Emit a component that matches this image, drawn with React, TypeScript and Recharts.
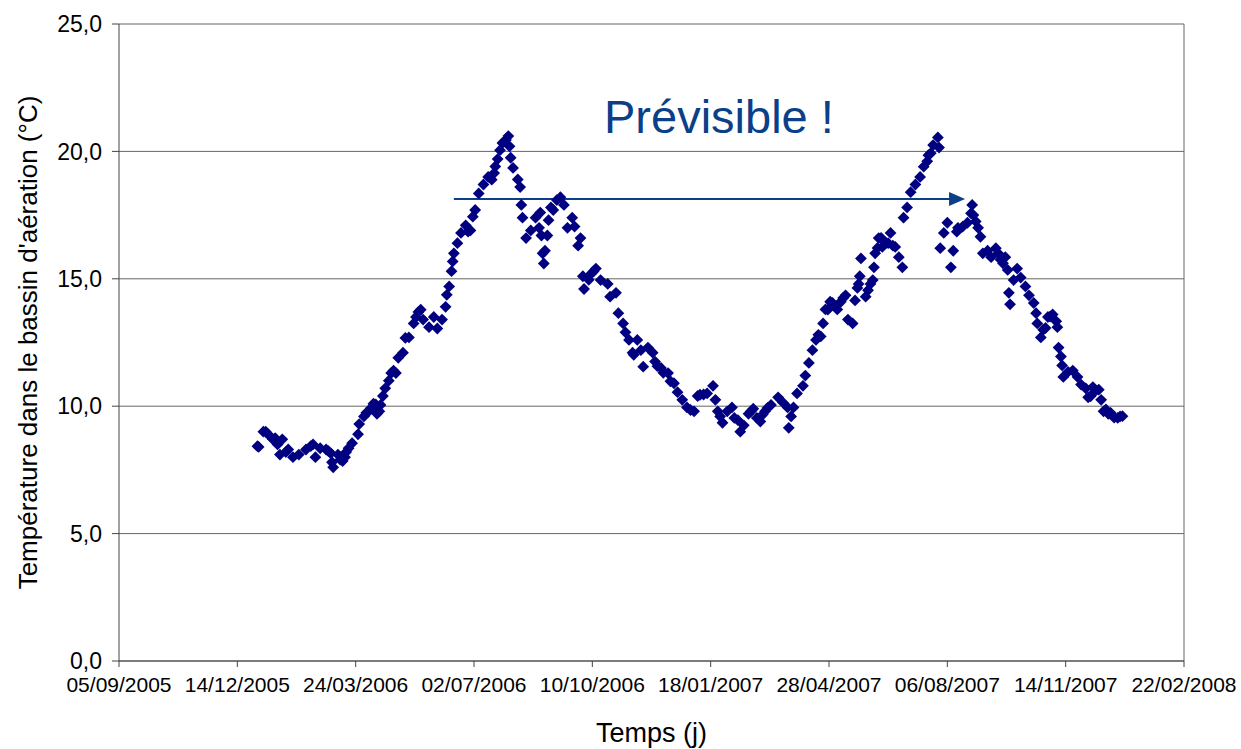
import { ScatterChart, Scatter, XAxis, YAxis, CartesianGrid, ReferenceLine, ReferenceDot } from "recharts";

// days counted from 05/09/2005
const startDate = Date.UTC(2005, 8, 5);
const dayTicks = [0, 100, 200, 300, 400, 500, 600, 700, 800, 900];
const tempTicks = [0, 5, 10, 15, 20, 25];

const days = [
  117, 118, 122, 124, 126, 130, 132, 134, 136, 138,
  141, 143, 147, 152, 158, 162, 164, 166, 170, 175,
  177, 179, 180, 181, 185, 187, 189, 191, 192, 194,
  197, 202, 203, 207, 209, 211, 213, 215, 217, 218,
  220, 221, 223, 225, 228, 230, 232, 234, 236, 240,
  242, 245, 249, 251, 253, 255, 257, 262, 266, 269,
  273, 276, 277, 279, 281, 282, 283, 286, 289, 293,
  295, 297, 299, 301, 304, 308, 312, 315, 317, 318,
  320, 322, 324, 327, 329, 330, 331, 333, 337, 339,
  340, 341, 344, 348, 352, 355, 356, 357, 358, 359,
  360, 362, 363, 365, 367, 370, 373, 376, 379, 383,
  385, 388, 390, 392, 393, 397, 399, 401, 403, 407,
  413, 415, 420, 422, 426, 428, 431, 434, 435, 438,
  441, 443, 447, 451, 453, 455, 458, 460, 464, 466,
  469, 472, 476, 480, 483, 486, 489, 491, 494, 497,
  502, 504, 506, 508, 510, 514, 518, 520, 523, 525,
  528, 532, 534, 536, 539, 542, 544, 546, 548, 551,
  557, 561, 565, 566, 568, 570, 573, 578, 580, 583,
  586, 589, 591, 593, 595, 597, 599, 601, 603, 607,
  610, 612, 614, 616, 620, 622, 624, 625, 626, 627,
  631, 633, 635, 637, 638, 639, 641, 642, 644, 645,
  648, 650, 652, 654, 656, 659, 662, 663, 666, 669,
  673, 677, 680, 683, 684, 686, 688, 692, 693, 694,
  697, 700, 703, 705, 708, 709, 713, 717, 720, 721,
  722, 724, 726, 728, 730, 734, 737, 741, 743, 745,
  747, 749, 751, 752, 753, 756, 759, 762, 766, 769,
  773, 775, 776, 779, 781, 783, 785, 787, 789, 792,
  793, 794, 796, 797, 798, 802, 806, 810, 813, 817,
  819, 821, 823, 825, 828, 830, 832, 834, 836, 838,
  841, 844, 846, 848,
];

const temps = [
  8.43, 8.4, 9.0, 9.0, 8.9, 8.7, 8.75, 8.5, 8.1, 8.7,
  8.2, 8.3, 8.0, 8.1, 8.3, 8.43, 8.5, 8.0, 8.35, 8.3,
  8.24, 8.15, 7.8, 7.6, 8.1, 7.9, 7.85, 8.0, 8.2, 8.35,
  8.55, 8.9, 9.3, 9.6, 9.74, 9.8, 9.93, 10.1, 10.07, 9.7,
  9.8, 10.05, 10.4, 10.7, 11.0, 11.3, 11.4, 11.3, 11.9, 12.1,
  12.68, 12.7, 13.25, 13.5, 13.7, 13.79, 13.4, 13.1, 13.5, 13.05,
  13.4, 13.9, 14.37, 14.7, 15.3, 15.68, 16.0, 16.4, 16.8, 17.1,
  16.85, 16.9, 17.44, 17.7, 18.35, 18.7, 19.0, 18.89, 19.15, 19.41,
  19.7, 20.05, 20.33, 20.45, 20.6, 20.2, 19.75, 19.35, 18.9, 18.6,
  17.9, 17.4, 16.6, 16.9, 17.4, 17.0, 17.6, 16.7, 16.0, 15.6,
  16.1, 16.7, 17.3, 17.8, 17.7, 18.09, 18.2, 17.9, 17.0, 17.4,
  17.05, 16.3, 16.6, 15.1, 14.6, 14.96, 15.2, 15.29, 15.4, 14.95,
  14.8, 14.3, 14.45, 13.65, 13.25, 12.9, 12.6, 12.1, 12.02, 12.6,
  12.2, 11.55, 12.3, 12.1, 11.75, 11.57, 11.5, 11.31, 11.3, 10.98,
  10.9, 10.55, 10.25, 9.95, 9.85, 9.8, 10.4, 10.45, 10.46, 10.5,
  10.8, 10.25, 9.8, 9.6, 9.35, 9.8, 9.95, 9.54, 9.45, 9.0,
  9.25, 9.7, 9.8, 9.9, 9.54, 9.4, 9.67, 9.8, 9.93, 10.05,
  10.35, 10.15, 9.95, 9.15, 9.6, 9.95, 10.5, 10.8, 11.2, 11.7,
  12.2, 12.6, 12.8, 12.74, 13.25, 13.8, 13.79, 14.1, 14.05, 13.8,
  14.1, 14.25, 14.35, 13.4, 13.25, 14.15, 14.64, 14.8, 15.1, 15.8,
  14.3, 14.55, 14.8, 14.95, 15.45, 16.0, 16.21, 16.6, 16.61, 16.25,
  16.41, 16.4, 16.8, 16.3, 16.25, 15.85, 15.45, 17.4, 17.8, 18.4,
  18.7, 19.0, 19.4, 19.61, 19.85, 19.93, 20.25, 20.55, 20.15, 16.2,
  16.8, 17.2, 15.45, 16.1, 16.85, 17.0, 17.05, 17.2, 17.57, 17.9,
  17.5, 17.25, 17.0, 16.65, 16.0, 16.1, 15.85, 16.2, 16.0, 15.75,
  15.61, 15.85, 15.35, 14.45, 14.0, 14.95, 15.4, 15.05, 14.7, 14.35,
  14.05, 13.65, 13.25, 12.7, 13.0, 13.07, 13.5, 13.52, 13.6, 13.33,
  13.1, 12.3, 11.95, 11.6, 11.15, 11.35, 11.4, 11.15, 10.85, 10.7,
  10.35, 10.39, 10.75, 10.59, 10.65, 10.25, 9.8, 9.87, 9.7, 9.74,
  9.55, 9.54, 9.6, 9.61,
];

// flèche : même température un an plus tard
const arrowFrom = 283;
const arrowTo = 715;
const arrowTemp = 18.13;
const noteText = "Prévisible !";

const data = days.map((d, i) => ({ day: d, temp: temps[i] }));

const font = "'Liberation Sans', Arial, sans-serif";
const navy = "#000080";
const blue = "#0B3F88";

function formatDate(d: number) {
  const dt = new Date(startDate + d * 86400000);
  const dd = String(dt.getUTCDate()).padStart(2, "0");
  const mm = String(dt.getUTCMonth() + 1).padStart(2, "0");
  return `${dd}/${mm}/${dt.getUTCFullYear()}`;
}

function Diamond(props: any) {
  const { cx, cy } = props;
  const r = 5.9;
  return <polygon points={`${cx},${cy - r} ${cx + r},${cy} ${cx},${cy + r} ${cx - r},${cy}`} fill={navy} />;
}

function Arrow(props: any) {
  const { x1, y1, x2, y2 } = props;
  return (
    <g>
      <line x1={x1} y1={y1} x2={x2 - 14} y2={y2} stroke={blue} strokeWidth={2} />
      <polygon points={`${x2},${y2} ${x2 - 16},${y2 - 7} ${x2 - 16},${y2 + 7}`} fill={blue} />
    </g>
  );
}

export default function App() {
  return (
    <div style={{ position: "absolute", left: 0, top: 0, width: 1241, height: 749, background: "#fff", fontFamily: font }}>
      <ScatterChart width={1241} height={749} margin={{ top: 24, right: 57, left: 0, bottom: 0 }}>
        <CartesianGrid vertical={false} stroke="#666" />
        <XAxis
          type="number"
          dataKey="day"
          domain={[0, 900]}
          ticks={dayTicks}
          tickFormatter={formatDate}
          height={88}
          tickSize={6}
          tickMargin={10}
          stroke="#444"
          tick={{ fill: "#000", fontSize: 21, fontFamily: font }}
          interval={0}
          label={{ value: "Temps (j)", position: "insideBottom", offset: 7, fill: "#000", fontSize: 27, fontFamily: font }}
        />
        <YAxis
          type="number"
          dataKey="temp"
          domain={[0, 25]}
          ticks={tempTicks}
          tickFormatter={(v: number) => v.toFixed(1).replace(".", ",")}
          width={119}
          tickSize={7}
          tickMargin={10}
          stroke="#444"
          tick={{ fill: "#000", fontSize: 23, fontFamily: font }}
          interval={0}
          label={{
            value: "Température dans le bassin d'aération (°C)",
            angle: -90,
            position: "center",
            dx: -32,
            fill: "#000",
            fontSize: 26,
            fontFamily: font,
          }}
        />
        <ReferenceLine x={900} stroke="#666" />
        <Scatter data={data} shape={<Diamond />} isAnimationActive={false} />
        <ReferenceLine
          segment={[
            { x: arrowFrom, y: arrowTemp },
            { x: arrowTo, y: arrowTemp },
          ]}
          shape={<Arrow />}
        />
        <ReferenceDot
          x={507}
          y={21.37}
          r={0}
          fill="none"
          stroke="none"
          label={{ value: noteText, position: "center", fill: blue, fontSize: 47, fontFamily: font }}
        />
      </ScatterChart>
    </div>
  );
}
